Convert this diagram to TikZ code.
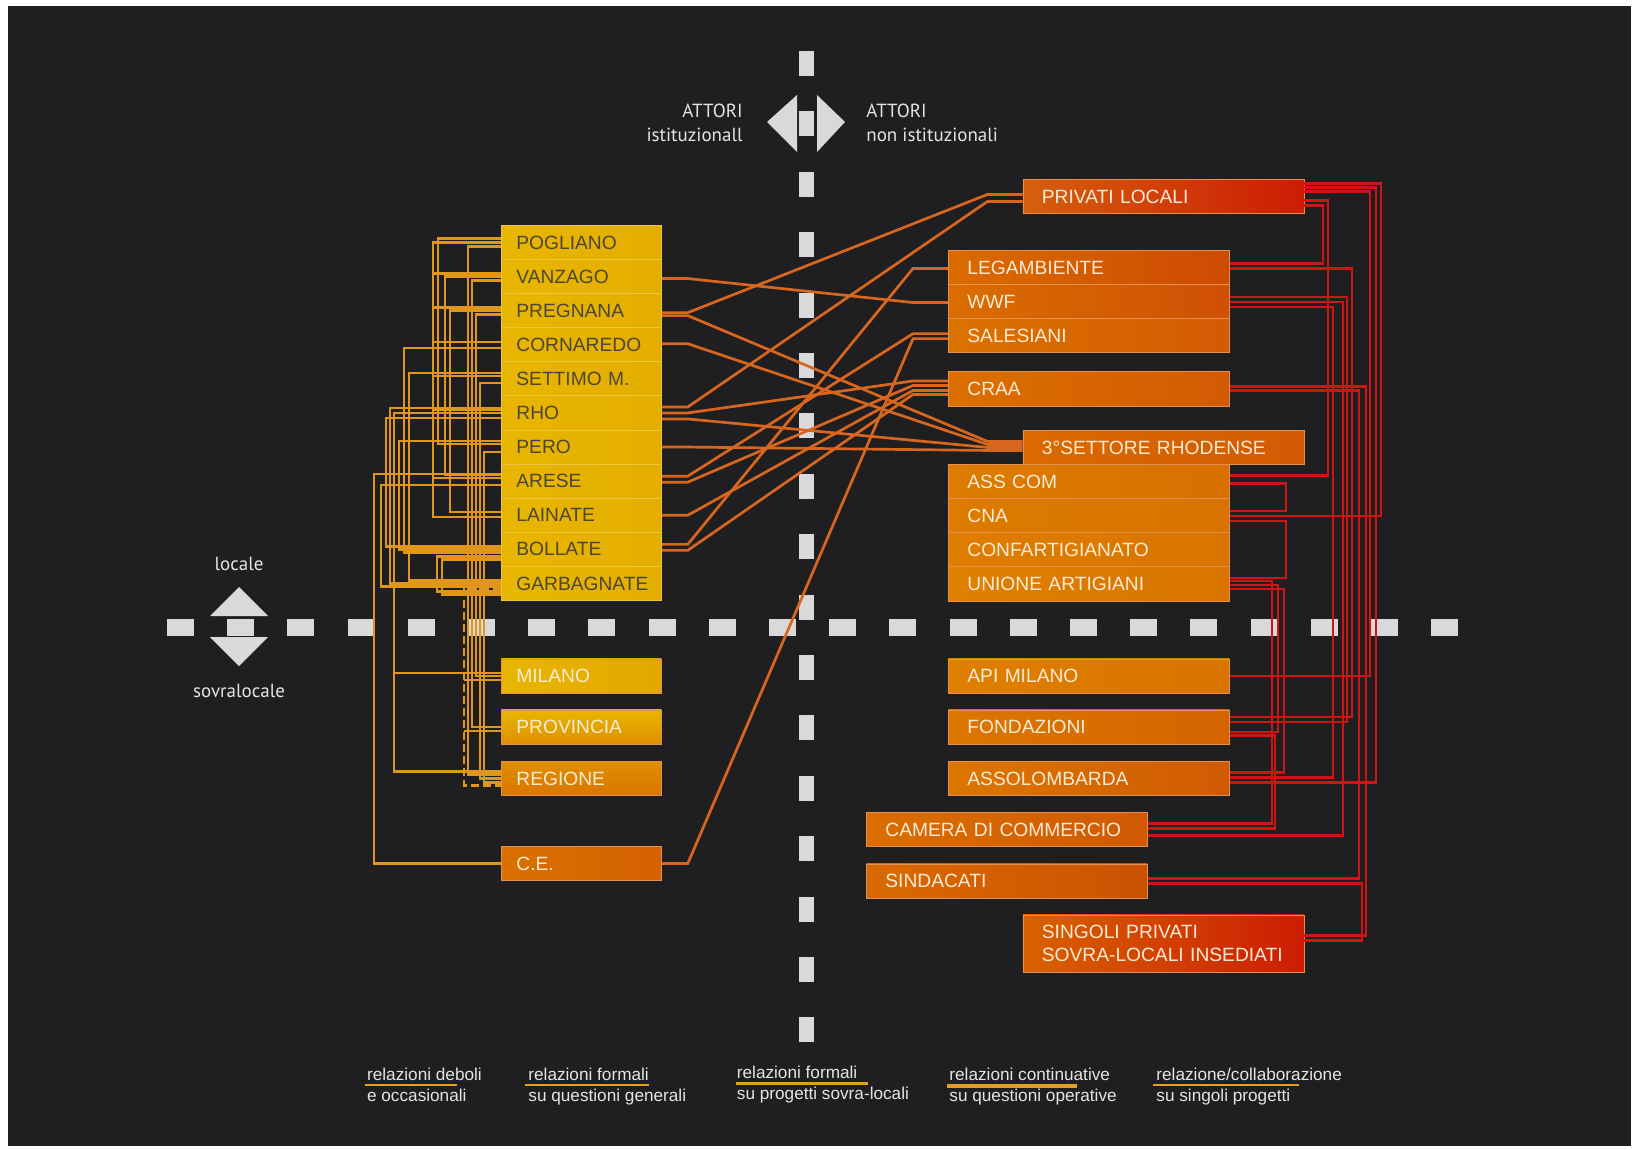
\documentclass[tikz,border=0pt]{standalone}
\usepackage{fontspec}
\setmainfont{Liberation Sans}
\newfontfamily\humfont{PT Sans}
\usetikzlibrary{calc}
\definecolor{bgdark}{HTML}{1F1F22}
\definecolor{dashc}{HTML}{D9D9DB}
\definecolor{busor}{HTML}{E0961A}
\definecolor{midor}{HTML}{D8661E}
\definecolor{redline}{HTML}{CF1414}
\definecolor{yel1}{HTML}{E8B600}
\definecolor{yel2}{HTML}{E4AE00}
\definecolor{yel3}{HTML}{E2A800}
\definecolor{yelline}{HTML}{EDC640}
\definecolor{ytext}{HTML}{4C463A}
\definecolor{wtext}{HTML}{FBEBD6}
\definecolor{orline}{HTML}{E59050}
\definecolor{ultext}{HTML}{E0A020}
\definecolor{legtext}{HTML}{E4E4E4}
\definecolor{provb}{HTML}{DE9000}
\definecolor{regt}{HTML}{E08E00}
\definecolor{regb}{HTML}{DA7600}
\definecolor{cel}{HTML}{DA7000}
\definecolor{cer}{HTML}{D46200}
\newcommand\bxfont{\fontsize{9.6}{12}\selectfont}
\newcommand\lgfont{\fontsize{8.6}{9}\selectfont}
\newcommand\hmfont{\humfont\fontsize{9.5}{11}\selectfont}
\newcommand\lbusx[5]{\draw[busl] ($(#1.west)+(0,#2)$) -| ($(#3.west)+(#4,#5)$) -- ($(#3.west)+(0,#5)$);}
\newcommand\mlinkx[4]{\draw[midl] ($(#1.east)+(0,#2)$) -- ++(26,0) -- ($(#3.west)+(-35,#4)$) -- ($(#3.west)+(0,#4)$);}
\newcommand\rlinkx[5]{\draw[redl] ($(#1.east)+(0,#2)$) -| ($(#3.east)+(#4,#5)$) -- ($(#3.east)+(0,#5)$);}
\begin{document}
\begin{tikzpicture}[x=0.5pt,y=-0.5pt,
  bx/.style={anchor=north west, minimum height=17.05pt, inner ysep=0pt, align=left, font=\bxfont, line width=0.4pt},
  lbox/.style={bx, inner xsep=7.5pt, text width=65pt},
  ybox/.style={lbox, left color=yel1, right color=yel2, draw=yelline, text=ytext},
  wbox/.style={lbox, draw=orline, text=wtext},
  rbox/.style={bx, inner xsep=9.5pt, text width=121.5pt, draw=orline, text=wtext},
  busl/.style={draw=busor, line width=1.2pt},
  midl/.style={draw=midor, line width=1.35pt},
  redl/.style={draw=redline, line width=1.1pt},
  hum/.style={inner sep=0pt, text=legtext, font=\hmfont},
  leg/.style={anchor=base west, inner sep=0pt, text=legtext, font=\lgfont},
  ul/.style={draw=ultext}]
\useasboundingbox (0,0) rectangle (1634,1150);
\fill[white] (0,0) rectangle (1634,1150);
\fill[bgdark] (8,6) rectangle (1631,1146);
% dashed axes
\foreach \k in {0,...,21} {\fill[dashc] ({167+60.2*\k},619) rectangle ++(27,17);}
\foreach \k in {0,...,16} {\fill[dashc] (798.5,{51+60.4*\k}) rectangle ++(15,25);}
\fill[dashc] (767,122) -- (797,95) -- (797,152) -- cycle;
\fill[dashc] (845,122) -- (817,95) -- (817,152) -- cycle;
\fill[dashc] (239,587) -- (210,616) -- (268,616) -- cycle;
\fill[dashc] (239,666) -- (210,637) -- (268,637) -- cycle;
% axis texts
\node[hum, anchor=base east] (attl1) at (743,118) {ATTORI};
\node[hum, anchor=base east] (attl2) at (743,141.7) {istituzionall};
\node[hum, anchor=base west] (attr1) at (866,118) {ATTORI};
\node[hum, anchor=base west] (attr2) at (866,141.7) {non istituzionali};
\node[hum, anchor=base] (loc) at (239,570) {locale};
\node[hum, anchor=base] (sovr) at (239,697) {sovralocale};
% nodes: institutional
\node[ybox] (pog) at (501,225) {POGLIANO};
\node[ybox] (van) at (501,259.1) {VANZAGO};
\node[ybox] (preg) at (501,293.2) {PREGNANA};
\node[ybox] (corn) at (501,327.3) {CORNAREDO};
\node[ybox] (sett) at (501,361.4) {SETTIMO M.};
\node[ybox] (rho) at (501,395.5) {RHO};
\node[ybox] (pero) at (501,429.6) {PERO};
\node[ybox] (ares) at (501,463.7) {ARESE};
\node[ybox] (lain) at (501,497.8) {LAINATE};
\node[ybox] (boll) at (501,531.9) {BOLLATE};
\node[ybox] (garb) at (501,566) {GARBAGNATE};
\node[wbox, left color=yel1, right color=yel3] (mil) at (501,658.5) {MILANO};
\node[wbox, top color=yel1, bottom color=provb] (prov) at (501,709.5) {PROVINCIA};
\node[wbox, top color=regt, bottom color=regb] (reg) at (501,761) {REGIONE};
\node[wbox, left color=cel, right color=cer] (ce) at (501,846) {C.E.};
% nodes: non institutional
\node[rbox, left color={rgb,255:red,213;green,96;blue,14}, right color={rgb,255:red,205;green,28;blue,4}] (priv) at (1022.5,179) {PRIVATI LOCALI};
\node[rbox, left color={rgb,255:red,217;green,108;blue,0}, right color={rgb,255:red,206;green,74;blue,4}] (leg) at (948,250) {LEGAMBIENTE};
\node[rbox, left color={rgb,255:red,218;green,110;blue,0}, right color={rgb,255:red,208;green,80;blue,6}] (wwf) at (948,284.1) {WWF};
\node[rbox, left color={rgb,255:red,219;green,114;blue,0}, right color={rgb,255:red,212;green,90;blue,4}] (sal) at (948,318.2) {SALESIANI};
\node[rbox, left color={rgb,255:red,219;green,112;blue,0}, right color={rgb,255:red,211;green,90;blue,4}] (craa) at (948,371.5) {CRAA};
\node[rbox, left color={rgb,255:red,217;green,106;blue,0}, right color={rgb,255:red,211;green,90;blue,4}] (terzo) at (1022.5,430) {3°SETTORE RHODENSE};
\node[rbox, left color={rgb,255:red,221;green,124;blue,0}, right color={rgb,255:red,216;green,112;blue,0}] (asscom) at (948,464.1) {ASS COM};
\node[rbox, left color={rgb,255:red,221;green,124;blue,0}, right color={rgb,255:red,216;green,114;blue,0}] (cna) at (948,498.2) {CNA};
\node[rbox, left color={rgb,255:red,222;green,126;blue,0}, right color={rgb,255:red,217;green,116;blue,0}] (conf) at (948,532.3) {CONFARTIGIANATO};
\node[rbox, left color={rgb,255:red,222;green,128;blue,0}, right color={rgb,255:red,217;green,116;blue,0}] (unione) at (948,566.4) {UNIONE ARTIGIANI};
\node[rbox, left color={rgb,255:red,223;green,128;blue,0}, right color={rgb,255:red,217;green,114;blue,0}] (api) at (948,658.5) {API MILANO};
\node[rbox, left color={rgb,255:red,220;green,118;blue,0}, right color={rgb,255:red,212;green,100;blue,0}] (fond) at (948,709.5) {FONDAZIONI};
\node[rbox, left color={rgb,255:red,220;green,118;blue,0}, right color={rgb,255:red,208;green,90;blue,4}] (assol) at (948,761) {ASSOLOMBARDA};
\node[rbox, left color={rgb,255:red,218;green,110;blue,0}, right color={rgb,255:red,208;green,90;blue,4}] (camera) at (866,812) {CAMERA DI COMMERCIO};
\node[rbox, left color={rgb,255:red,217;green,106;blue,0}, right color={rgb,255:red,202;green,82;blue,4}] (sind) at (866,863.5) {SINDACATI};
\node[rbox, minimum height=28.5pt, font=\fontsize{9.6}{11.8}\selectfont, left color={rgb,255:red,216;green,98;blue,0}, right color={rgb,255:red,205;green,28;blue,4}] (singoli) at (1022.5,914.5) {SINGOLI PRIVATI\\SOVRA-LOCALI INSEDIATI};
% left bus (relations among institutional actors)
\lbusx{pog}{0}{lain}{-68}{2}
\lbusx{pog}{-4}{pero}{-63}{-3}
\lbusx{van}{0}{ares}{-56}{-6}
\lbusx{preg}{0}{lain}{-51}{-3}
\foreach \n in {van,preg,corn,sett,rho,ares} {\draw[busl] ($(\n.west)+(0,-3)$) -- ++(-68,0);}
\lbusx{pog}{4}{reg}{-33}{-4}
\lbusx{van}{4}{prov}{-29}{0}
\lbusx{preg}{4}{mil}{-25}{0}
\lbusx{sett}{4}{reg}{-21}{0}
\lbusx{pero}{5}{reg}{-17}{4}
\draw[busl, dash pattern=on 4pt off 2pt] ($(garb.west)+(0,6)$) -| ($(reg.west)+(-37,7)$) -- ($(reg.west)+(0,7)$);
\draw[busl] ($(mil.west)+(0,4)$) -- ++(-37,0);
\draw[busl] ($(prov.west)+(0,4)$) -- ++(-37,0);
\lbusx{corn}{3}{boll}{-97}{3}
\lbusx{sett}{-6}{garb}{-92}{-3}
\lbusx{rho}{-5}{garb}{-111}{0}
\lbusx{rho}{0}{reg}{-107}{-7}
\draw[busl] ($(mil.west)+(0,-3)$) -- ++(-107,0);
\lbusx{rho}{5}{boll}{-115}{-3}
\lbusx{pero}{-6}{boll}{-102}{0}
\lbusx{ares}{-7}{ce}{-127}{0}
\lbusx{ares}{4}{garb}{-120}{3}
\lbusx{boll}{7}{garb}{-64}{8}
\lbusx{boll}{10}{garb}{-59}{11}
% middle links
\mlinkx{van}{2}{wwf}{1}
\mlinkx{preg}{2}{priv}{-2}
\mlinkx{preg}{5}{terzo}{-6}
\mlinkx{corn}{-1}{terzo}{-3}
\mlinkx{rho}{-6}{priv}{5}
\mlinkx{rho}{0}{craa}{-8}
\mlinkx{rho}{6}{terzo}{0}
\mlinkx{pero}{0}{terzo}{3}
\mlinkx{ares}{-5}{sal}{-2}
\mlinkx{ares}{1}{craa}{-3.5}
\mlinkx{lain}{0}{craa}{1.5}
\mlinkx{boll}{-5}{leg}{1}
\mlinkx{boll}{1}{craa}{5.5}
\mlinkx{ce}{0}{sal}{3}
% right bus (non institutional)
\rlinkx{priv}{-13}{cna}{151}{0}
\rlinkx{priv}{-9}{assol}{146}{4}
\rlinkx{priv}{-5}{api}{140}{0}
\rlinkx{priv}{4}{asscom}{98}{-6}
\rlinkx{priv}{9}{leg}{93}{-4}
\rlinkx{leg}{1}{fond}{122}{-10}
\rlinkx{wwf}{-4.5}{fond}{117}{-5}
\rlinkx{wwf}{0.5}{camera}{195}{6}
\rlinkx{wwf}{5.5}{assol}{103}{-1}
\rlinkx{craa}{-2.5}{singoli}{61.5}{-8}
\rlinkx{craa}{1.5}{sind}{211}{-2.5}
\rlinkx{sind}{2.5}{singoli}{57.5}{-3}
\rlinkx{asscom}{2}{cna}{56}{-5}
\rlinkx{cna}{5}{unione}{56}{-6}
\rlinkx{unione}{-3}{camera}{124}{-6}
\rlinkx{unione}{1}{fond}{48}{5}
\rlinkx{unione}{5}{assol}{54}{-6}
\rlinkx{fond}{8.5}{camera}{127}{-1}
% legend
\node[leg] (l1a) at (366.7,1080.5) {relazioni deboli};
\node[leg] (l1b) at (366.7,1101) {e occasionali};
\node[leg] (l2a) at (528,1080.5) {relazioni formali};
\node[leg] (l2b) at (528,1101) {su questioni generali};
\node[leg] (l3a) at (736.5,1078.5) {relazioni formali};
\node[leg] (l3b) at (736.5,1099) {su progetti sovra-locali};
\node[leg] (l4a) at (949,1080.5) {relazioni continuative};
\node[leg] (l4b) at (949,1101) {su questioni operative};
\node[leg] (l5a) at (1156,1080.5) {relazione/collaborazione};
\node[leg] (l5b) at (1156,1101) {su singoli progetti};
\draw[ul, line width=1pt] ($(l1a.base west)+(-2,4.5)$) -- ++(92,0);
\draw[ul, line width=1.4pt] ($(l2a.base west)+(-3,4.5)$) -- ++(124,0);
\draw[ul, line width=1.5pt] ($(l3a.base west)+(-1,4.5)$) -- ++(132,0);
\draw[ul, line width=2pt] ($(l4a.base west)+(-2,5)$) -- ++(130,0);
\draw[ul, line width=1.2pt] ($(l5a.base west)+(-3,4.5)$) -- ++(146,0);
\end{tikzpicture}
\end{document}
